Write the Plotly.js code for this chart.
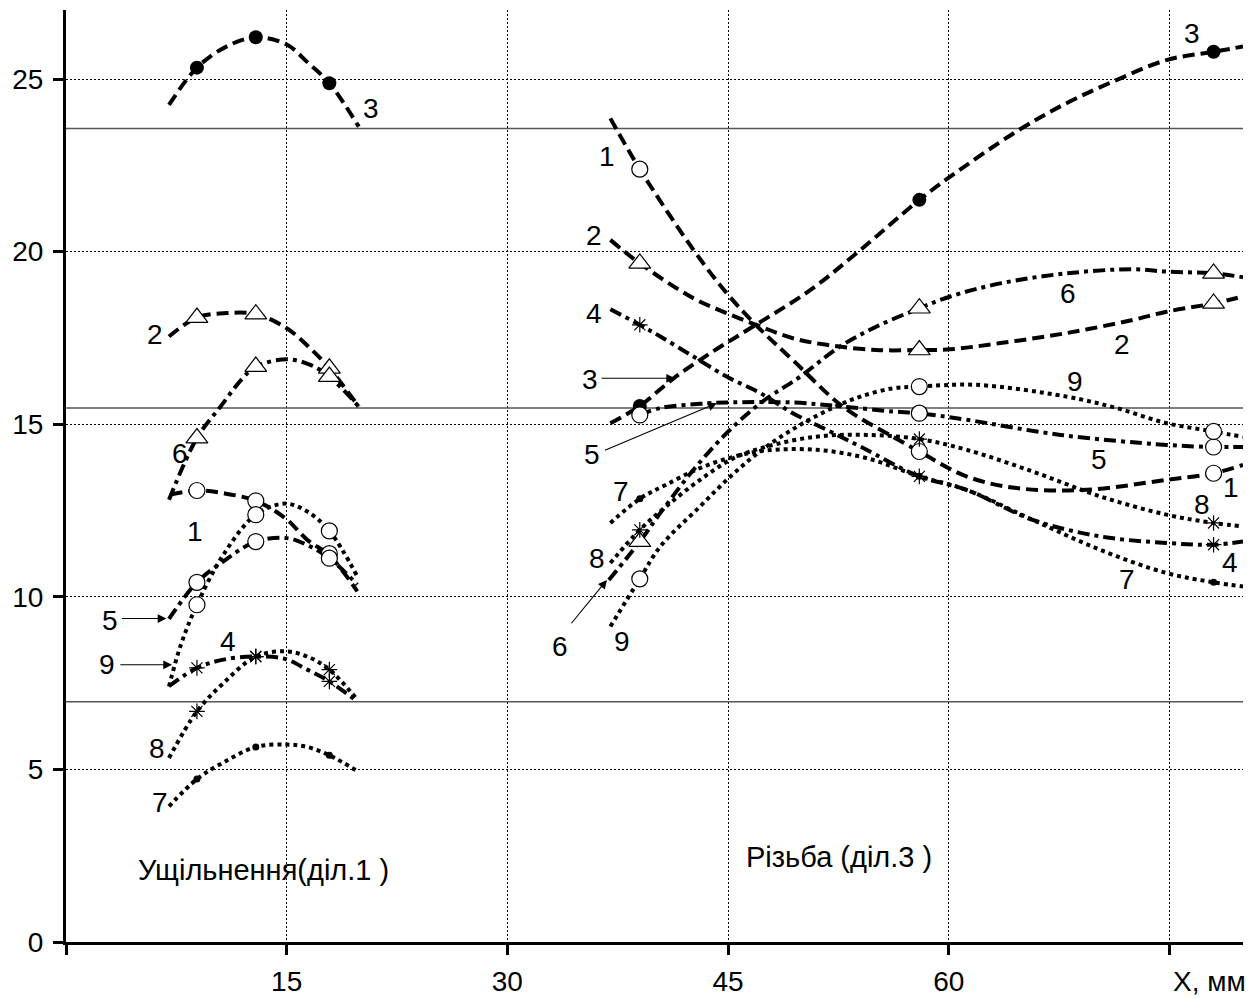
<!DOCTYPE html>
<html>
<head>
<meta charset="utf-8">
<script src="https://cdn.plot.ly/plotly-3.0.1.min.js"></script>
<style>html,body{margin:0;padding:0;background:#fff;}#chart{width:1254px;height:999px;}</style>
</head>
<body>
<div id="chart"></div>
<script>
// ---- marker positions (X, mm) ----
const xLeft = [8.9, 12.9, 17.9];
const xRight = [39, 58, 78];

// ---- measured values at markers, series 1..9 ----
const m1L = [13.08, 12.78, 11.25], m1R = [22.39, 14.21, 13.58];
const m2L = [18.09, 18.19, 16.62], m2R = [19.66, 17.15, 18.5];
const m3L = [25.33, 26.21, 24.88], m3R = [15.53, 21.5, 25.79];
const m4L = [7.94, 8.27, 7.55],    m4R = [17.88, 13.49, 11.51];
const m5L = [10.42, 11.6, 11.12],  m5R = [15.27, 15.32, 14.34];
const m6L = [14.6, 16.67, 16.38],  m6R = [11.6, 18.36, 19.37];
const m7L = [4.72, 5.65, 5.41],    m7R = [12.84, 13.49, 10.42];
const m8L = [6.68, 8.27, 7.89],    m8R = [11.94, 14.57, 12.14];
const m9L = [9.77, 12.38, 11.91],  m9R = [10.52, 16.09, 14.79];

// ---- traced curves ----
const c1Lx = [7.1, 8.9, 10.7, 12.9, 14.9, 16.4, 17.9, 19.8];
const c1Ly = [12.96, 13.08, 13.0, 12.78, 12.28, 11.65, 11.2, 10.16];
const c2Lx = [7.0, 8.9, 10.9, 12.9, 15.0, 16.6, 17.9, 19.9];
const c2Ly = [17.54, 18.09, 18.22, 18.19, 17.78, 17.2, 16.62, 15.51];
const c3Lx = [7.0, 8.9, 10.9, 12.9, 15.0, 16.5, 17.9, 19.9];
const c3Ly = [24.25, 25.33, 25.94, 26.21, 26.0, 25.45, 24.88, 23.62];
const c4Lx = [7.0, 8.9, 10.7, 12.9, 14.9, 16.4, 17.9, 19.8];
const c4Ly = [7.41, 7.94, 8.18, 8.27, 8.2, 7.89, 7.55, 6.97];
const c5Lx = [7.0, 8.9, 10.7, 12.9, 15.0, 16.4, 17.9, 19.8];
const c5Ly = [9.36, 10.42, 11.03, 11.6, 11.7, 11.5, 11.12, 10.35];
const c6Lx = [7.0, 8.9, 10.5, 12.0, 12.9, 15.0, 16.6, 17.9, 19.9];
const c6Ly = [12.81, 14.6, 15.51, 16.33, 16.67, 16.88, 16.72, 16.38, 15.51];
const c7Lx = [7.0, 8.9, 10.7, 12.9, 15.0, 16.4, 17.9, 19.8];
const c7Ly = [3.93, 4.72, 5.2, 5.65, 5.72, 5.65, 5.41, 4.95];
const c8Lx = [7.0, 8.9, 10.7, 12.9, 14.9, 16.4, 17.9, 19.8];
const c8Ly = [5.33, 6.68, 7.5, 8.27, 8.42, 8.27, 7.89, 7.02];
const c9Lx = [7.0, 7.8, 8.9, 10.7, 12.9, 14.9, 16.4, 17.9, 19.8];
const c9Ly = [7.4, 8.6, 9.77, 11.22, 12.38, 12.7, 12.47, 11.91, 10.59];

const c1Rx = [37.0, 39.0, 42.65, 44.9, 47.0, 49.4, 52.8, 56.2, 58.0, 61.2, 64.6, 69.4, 74.8, 78.0, 80.0];
const c1Ry = [23.86, 22.39, 20.05, 18.8, 17.83, 16.86, 15.51, 14.64, 14.21, 13.49, 13.15, 13.1, 13.39, 13.58, 13.82];
const c2Rx = [37.0, 39.0, 42.65, 44.9, 47.2, 49.4, 51.7, 55.1, 58.0, 60.1, 63.5, 68.0, 72.5, 74.8, 78.0, 80.0];
const c2Ry = [20.34, 19.66, 18.65, 18.22, 17.83, 17.49, 17.3, 17.15, 17.15, 17.17, 17.35, 17.64, 18.02, 18.26, 18.5, 18.7];
const c3Rx = [37.0, 39.0, 41.3, 43.8, 46.7, 50.6, 54.0, 58.0, 60.1, 64.6, 68.0, 71.4, 74.8, 78.0, 80.0];
const c3Ry = [15.03, 15.53, 16.33, 17.06, 17.83, 18.89, 20.05, 21.5, 22.17, 23.48, 24.3, 24.97, 25.55, 25.79, 25.94];
const c4Rx = [37.0, 39.0, 40.4, 42.65, 44.9, 47.2, 49.4, 51.7, 54.0, 58.0, 61.2, 65.7, 70.3, 74.8, 78.0, 80.0];
const c4Ry = [18.33, 17.88, 17.54, 16.96, 16.38, 15.9, 15.32, 14.84, 14.35, 13.49, 13.1, 12.23, 11.75, 11.56, 11.51, 11.6];
const c5Rx = [39.0, 40.4, 43.1, 44.9, 49.4, 52.8, 56.2, 58.0, 61.2, 67.6, 74.8, 78.0, 80.0];
const c5Ry = [15.27, 15.47, 15.59, 15.63, 15.63, 15.51, 15.37, 15.32, 15.13, 14.69, 14.4, 14.34, 14.34];
const c6Rx = [36.9, 39.0, 40.4, 42.65, 44.9, 47.2, 49.9, 52.6, 55.1, 58.0, 60.1, 63.5, 68.0, 72.5, 74.8, 78.0, 80.0];
const c6Ry = [10.49, 11.6, 12.43, 13.68, 14.74, 15.61, 16.38, 17.25, 17.83, 18.36, 18.7, 19.08, 19.37, 19.49, 19.42, 19.37, 19.26];
const c7Rx = [37.0, 39.0, 40.8, 43.1, 45.4, 47.6, 51.0, 54.4, 58.0, 61.2, 65.7, 70.3, 74.8, 78.0, 80.0];
const c7Ry = [12.14, 12.84, 13.25, 13.73, 14.06, 14.24, 14.26, 14.02, 13.49, 13.1, 12.23, 11.36, 10.69, 10.42, 10.3];
const c8Rx = [37.0, 39.0, 40.8, 43.1, 45.4, 47.6, 51.0, 54.4, 58.0, 61.2, 65.7, 70.3, 74.8, 78.0, 80.0];
const c8Ry = [10.98, 11.94, 12.62, 13.39, 14.02, 14.35, 14.64, 14.69, 14.57, 14.26, 13.63, 12.91, 12.38, 12.14, 12.04];
const c9Rx = [37.0, 39.0, 40.4, 43.1, 45.4, 47.6, 49.9, 52.1, 54.0, 56.2, 58.0, 61.9, 68.0, 71.4, 74.8, 78.0, 80.0];
const c9Ry = [9.14, 10.52, 11.46, 12.62, 13.58, 14.35, 14.98, 15.47, 15.8, 16.04, 16.09, 16.14, 15.8, 15.47, 15.03, 14.79, 14.63];

// ---- horizontal reference levels ----
const refLevels = [23.57, 15.47, 6.96];

// ---- axis ticks ----
const xTicks = [0, 15, 30, 45, 60, 75];
const xTickText = ['', '15', '30', '45', '60', ''];
const yTicks = [0, 5, 10, 15, 20, 25];
const xAxisName = 'X, мм';

// ---- curve number labels ----
const labText = ['3','2','6','1','5','9','4','8','7',
                 '1','2','4','3','5','7','8','6','9',
                 '6','2','9','5','1','8','4','7','3'];
const labX = [20.7, 6.08, 7.73, 8.8, 2.98, 2.8, 11.0, 6.2, 6.4,
              36.8, 35.9, 35.9, 35.6, 35.75, 37.7, 36.1, 33.6, 37.8,
              68.1, 71.75, 68.6, 70.2, 79.2, 77.2, 79.1, 72.1, 76.5];
const labY = [24.15, 17.59, 14.16, 11.89, 9.32, 8.03, 8.71, 5.62, 4.04,
              22.75, 20.48, 18.22, 16.29, 14.11, 13.05, 11.12, 8.56, 8.71,
              18.8, 17.3, 16.24, 13.97, 13.18, 12.67, 10.98, 10.5, 26.32];

// ---- pointer arrows ----
const arrTailX = [3.70, 3.59, 36.3, 36.53, 34.27];
const arrTailY = [9.37, 8.03, 16.33, 14.23, 9.19];
const arrHeadX = [6.83, 7.21, 41.4, 44.24, 36.77];
const arrHeadY = [9.37, 8.03, 16.33, 15.61, 10.49];

// ---- section captions ----
const captions = ['Ущільнення(діл.1 )', 'Різьба (діл.3 )'];
const captionX = [13.42, 52.55];
const captionY = [2.1, 2.45];

const FONT = 'Liberation Sans, Arial, sans-serif';

const curves = [
  [c1Lx, c1Ly, c1Rx, c1Ry, m1L, m1R],
  [c2Lx, c2Ly, c2Rx, c2Ry, m2L, m2R],
  [c3Lx, c3Ly, c3Rx, c3Ry, m3L, m3R],
  [c4Lx, c4Ly, c4Rx, c4Ry, m4L, m4R],
  [c5Lx, c5Ly, c5Rx, c5Ry, m5L, m5R],
  [c6Lx, c6Ly, c6Rx, c6Ry, m6L, m6R],
  [c7Lx, c7Ly, c7Rx, c7Ry, m7L, m7R],
  [c8Lx, c8Ly, c8Rx, c8Ry, m8L, m8R],
  [c9Lx, c9Ly, c9Rx, c9Ry, m9L, m9R]
];

function dashFor(i) {
  if (i < 3) return '12px,6px';
  if (i < 6) return '12px,5px,4px,5px';
  return '4px,4px';
}
function markerFor(i) {
  const n = i + 1;
  if (n === 1 || n === 5 || n === 9) return {symbol: 'circle', size: 16, color: '#fff', line: {color: '#000', width: 1.2}};
  if (n === 2 || n === 6) return {symbol: 'triangle-up', size: 19, color: '#fff', line: {color: '#000', width: 1.2}};
  if (n === 3) return {symbol: 'circle', size: 14, color: '#000', line: {color: '#000', width: 0}};
  if (n === 4 || n === 8) return {symbol: 'asterisk-open', size: 13, color: '#000', line: {color: '#000', width: 1.2}};
  return {symbol: 'circle', size: 7, color: '#000', line: {color: '#000', width: 0}};
}

const traces = [];
refLevels.forEach(v => {
  traces.push({x: [0, 80], y: [v, v], mode: 'lines', line: {color: '#555', width: 1.5}, hoverinfo: 'skip', showlegend: false});
});
curves.forEach((c, i) => {
  const line = {color: '#000', width: 4, dash: dashFor(i), shape: 'spline', smoothing: 1};
  traces.push({x: c[0], y: c[1], mode: 'lines', line: line, showlegend: false});
  traces.push({x: c[2], y: c[3], mode: 'lines', line: line, showlegend: false});
});
curves.forEach((c, i) => {
  traces.push({x: xLeft.concat(xRight), y: c[4].concat(c[5]), mode: 'markers', marker: markerFor(i), showlegend: false, cliponaxis: false});
});

const annotations = [];
labText.forEach((t, i) => {
  annotations.push({x: labX[i], y: labY[i], xref: 'x', yref: 'y', text: t, showarrow: false, font: {family: FONT, size: 28, color: '#000'}});
});
arrTailX.forEach((tx, i) => {
  annotations.push({x: arrHeadX[i], y: arrHeadY[i], xref: 'x', yref: 'y', ax: tx, ay: arrTailY[i], axref: 'x', ayref: 'y',
    text: '', showarrow: true, arrowhead: 2, arrowsize: 1.6, arrowwidth: 1.1, arrowcolor: '#000'});
});
captions.forEach((t, i) => {
  annotations.push({x: captionX[i], y: captionY[i], xref: 'x', yref: 'y', text: t, showarrow: false, font: {family: FONT, size: 29, color: '#000'}});
});
annotations.push({x: 77.7, y: -0.0424, xref: 'x', yref: 'paper', yanchor: 'middle', text: xAxisName, showarrow: false, font: {family: FONT, size: 28, color: '#000'}});

const layout = {
  width: 1254, height: 999,
  margin: {l: 66, r: 11, t: 10, b: 56.5, pad: 0},
  paper_bgcolor: '#fff', plot_bgcolor: '#fff',
  showlegend: false,
  font: {family: FONT, size: 28, color: '#000'},
  xaxis: {
    range: [0, 80], tickmode: 'array', tickvals: xTicks, ticktext: xTickText,
    showgrid: true, gridcolor: '#000', gridwidth: 1, griddash: '2px,2px',
    zeroline: false, showline: true, linecolor: '#000', linewidth: 3,
    ticks: 'outside', ticklen: 10, tickwidth: 3, tickcolor: '#000',
    ticklabelstandoff: 2, tickfont: {family: FONT, size: 28, color: '#000'}
  },
  yaxis: {
    range: [0, 27], tickmode: 'array', tickvals: yTicks,
    showgrid: true, gridcolor: '#000', gridwidth: 1, griddash: '2px,2px',
    zeroline: false, showline: true, linecolor: '#000', linewidth: 3,
    ticks: 'outside', ticklen: 10, tickwidth: 3, tickcolor: '#000',
    ticklabelstandoff: 4, tickfont: {family: FONT, size: 28, color: '#000'}
  },
  annotations: annotations
};

Plotly.newPlot('chart', traces, layout, {displayModeBar: false, staticPlot: true});
</script>
</body>
</html>
